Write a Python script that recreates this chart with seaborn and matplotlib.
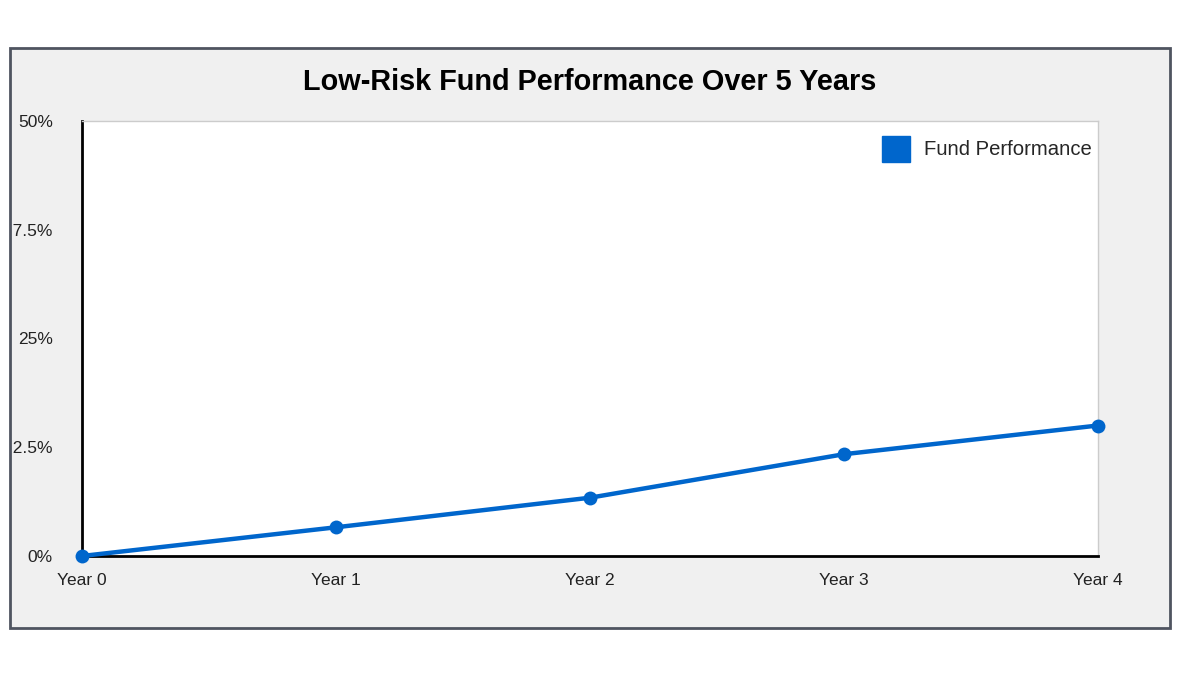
import pandas as pd
import seaborn as sns
import matplotlib.pyplot as plt
from matplotlib.patches import Rectangle, Patch
from matplotlib.transforms import Bbox, TransformedBbox

# data
years = ["Year 0", "Year 1", "Year 2", "Year 3", "Year 4"]
performance = [0.0, 3.3, 6.7, 11.7, 15.0]
y_ticks = [0, 12.5, 25, 37.5, 50]
y_tick_labels = ["0%", "12.5%", "25%", "37.5%", "50%"]

blue = "#0066cc"

sns.set_style("white")
plt.rcParams['font.family'] = ['Liberation Sans', 'DejaVu Sans']

df = pd.DataFrame({"x": range(len(years)), "perf": performance})

W, H = 1199, 675
fig = plt.figure(figsize=(W / 100, H / 100), dpi=100)
fig.patch.set_facecolor("white")

# grey panel with dark border (behind the axes)
panel = Rectangle((10 / W, 1 - 628 / H), 1160 / W, 580 / H, transform=fig.transFigure,
                  facecolor="#f0f0f0", edgecolor="#4f5460", linewidth=2, zorder=-1)
fig.patches.append(panel)

ax = fig.add_axes([82 / W, 1 - 556 / H, 1016 / W, 435 / H])
ax.set_facecolor("white")

sns.lineplot(data=df, x="x", y="perf", ax=ax, color=blue, linewidth=3.2,
             marker="o", markersize=10, markeredgewidth=0, clip_on=False, zorder=5)

ax.set_xlim(0, 4)
ax.set_ylim(0, 50)
ax.set_xticks(range(len(years)))
ax.set_xticklabels(years)
ax.set_yticks(y_ticks)
ax.set_yticklabels(y_tick_labels)
ax.set_xlabel("")
ax.set_ylabel("")
ax.tick_params(axis="both", length=0, labelsize=12.5, colors="#222222")
ax.tick_params(axis="y", pad=21)
ax.tick_params(axis="x", pad=12)

for side in ["left", "bottom"]:
    ax.spines[side].set_color("black")
    ax.spines[side].set_linewidth(2)
for side in ["top", "right"]:
    ax.spines[side].set_color("#cccccc")
    ax.spines[side].set_linewidth(1)

# the long y labels run past the panel edge in the original
clip = TransformedBbox(Bbox([[13 / W, 0], [1, 1]]), fig.transFigure)
for lbl in ax.get_yticklabels():
    lbl.set_clip_box(clip)
    lbl.set_clip_on(True)

ax.set_title("Low-Risk Fund Performance Over 5 Years", fontsize=20.8, fontweight="bold",
             color="black", pad=22)

handle = Patch(facecolor=blue, edgecolor=blue)
ax.legend([handle], ["Fund Performance"], loc="upper right", frameon=False,
          fontsize=14.6, handlelength=1.36, handleheight=1.62, handletextpad=0.72,
          borderaxespad=0, bbox_to_anchor=(1.0023, 0.985))

fig.savefig("out.png", dpi=100)
